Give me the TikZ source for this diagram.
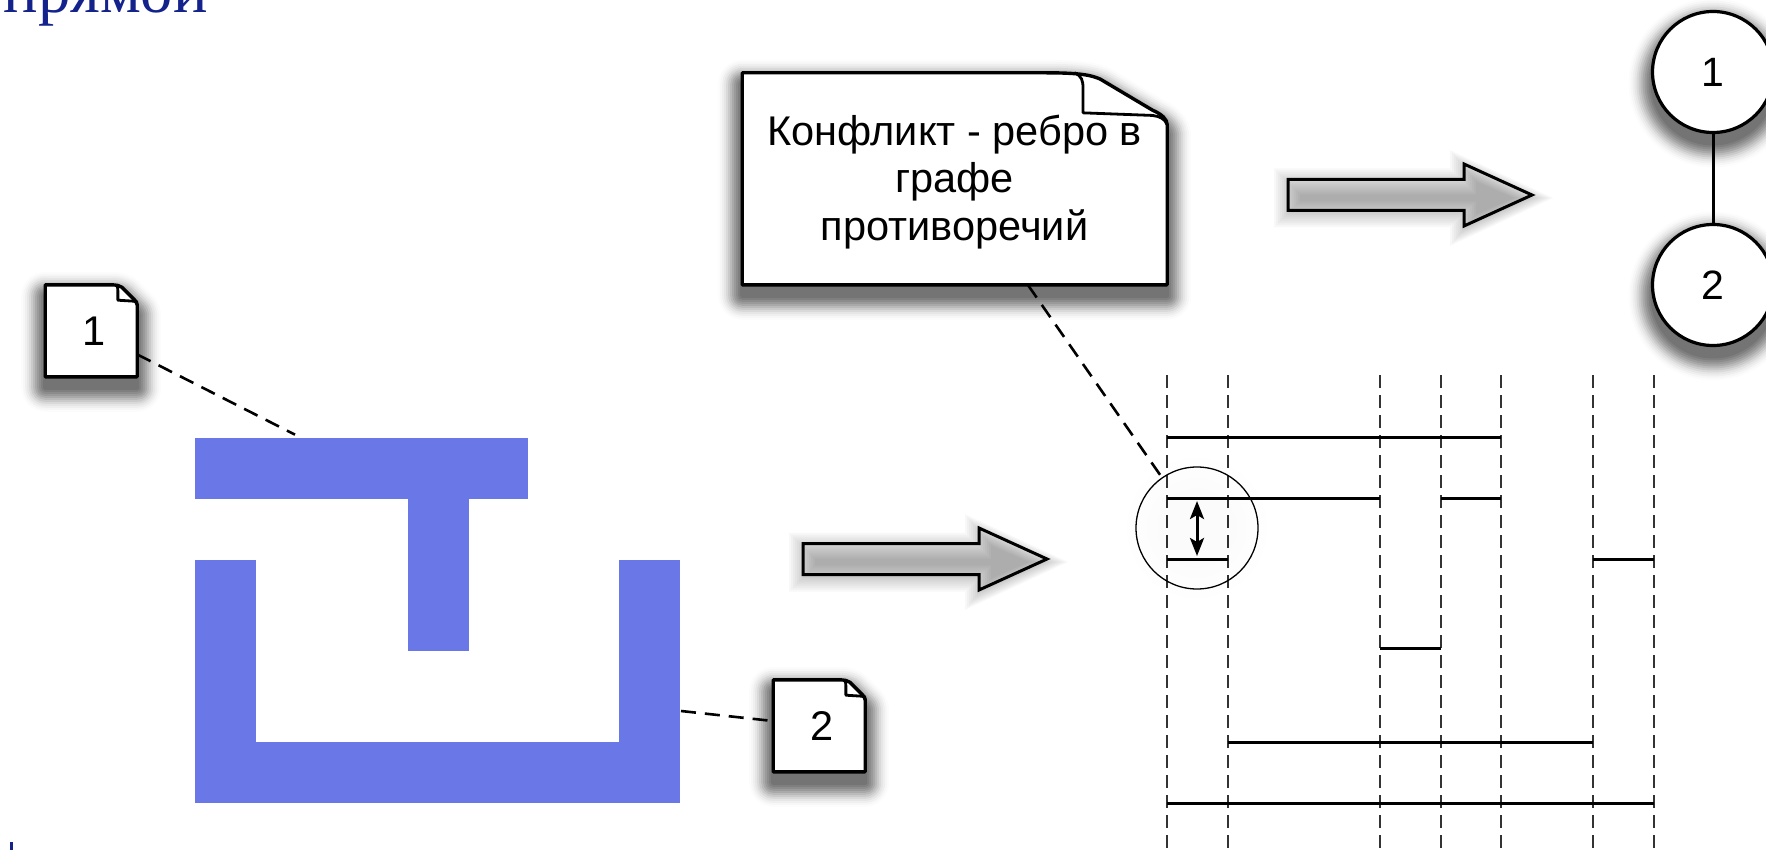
\documentclass[tikz,border=0pt]{standalone}
\usepackage{fontspec}
\setmainfont{Liberation Sans}
\newfontfamily\titlefont{Liberation Serif}
\usetikzlibrary{arrows.meta, backgrounds}
\definecolor{wireBlue}{RGB}{106,119,230}
\definecolor{titleBlue}{RGB}{20,35,140}
\tikzstyle{note} = [inner sep=0, align=center, font=\fontsize{41.5}{47.5}\selectfont]
\tikzstyle{vertex} = [draw, circle, fill=white, line width=3.2pt, minimum size=121pt, inner sep=0, font=\fontsize{41}{46}\selectfont]
\tikzstyle{wire} = [fill=wireBlue, inner sep=0]
\tikzstyle{leader} = [line width=2.6pt, dash pattern=on 15pt off 9pt]
\tikzstyle{column} = [line width=1.3pt, black!80, dash pattern=on 13pt off 7pt]
\tikzstyle{segment} = [line width=3pt]
\tikzstyle{shade step} = [black, line join=round]
\newcommand{\softshade}[1]{\foreach \w/\a in {48/.01,44/.02,40/.03,36/.04,32/.055,28/.07,24/.08,20/.09,16/.09,12/.09,8/.09,4/.09} {
    \begin{scope}[transparency group, opacity=\a]
      \draw[shade step, fill, line width=\w pt] #1;
    \end{scope}}}
% name, width, height, fold width, fold height
\newcommand{\noteback}[5]{
  \begin{scope}[shift={(#1.north east)}]
    \def\outline{(-#2,0) -- (-#4,0) .. controls (-.7*#4,0) and (-.62*#4,.05*#5) .. (-.55*#4,.12*#5) -- (-.12*#4,.72*#5) .. controls (-.04*#4,.8*#5) and (0,.9*#5) .. (0,#5) -- (0,#3) -- (-#2,#3) -- cycle}
    \begin{scope}[yshift=-11pt]
      \softshade{\outline}
    \end{scope}
    \draw[line width=3.4pt, fill=white, line join=round] \outline;
    \draw[line width=2.8pt, line join=round] (-.76*#4,0) .. controls (-.7*#4,.06*#5) and (-.69*#4,.15*#5) .. (-.69*#4,.3*#5) -- (-.69*#4,.77*#5) -- (-.12*#4,.82*#5) .. controls (-.06*#4,.84*#5) and (-.02*#4,.88*#5) .. (0,#5);
  \end{scope}
}
% tail x, tail y
\newcommand{\blockarrow}[2]{
  \begin{scope}[shift={(#1,#2)}]
    \foreach \off in {-12,-10,...,14} {
      \fill[black, opacity=0.028, yshift=-3pt] (-\off,-15.5-\off) -- (176-\off,-15.5-\off) -- (176-\off,-31-1.2*\off) -- (244+1.5*\off,0) -- (176-\off,31+1.2*\off) -- (176-\off,15.5+\off) -- (-\off,15.5+\off) -- cycle;
    }
    \draw[line width=3pt, line join=miter] (0,-15.5) -- (176,-15.5) -- (176,-31) -- (244,0) -- (176,31) -- (176,15.5) -- (0,15.5) -- cycle;
  \end{scope}
}

\begin{document}
\begin{tikzpicture}[x=1pt, y=-1pt]
    \useasboundingbox (0,0) rectangle (1766,850);
    \node [anchor=base west, inner sep=0, text=titleBlue, font=\titlefont\fontsize{64.5}{65}\selectfont] (title) at (3.5,13) {прямой};
    \fill [titleBlue] (10,842) rectangle (13,850);

    % layout
    \node [wire, minimum width=333pt, minimum height=61pt] (wireTop) at (361.5,468.5) {};
    \node [wire, minimum width=60.5pt, minimum height=152pt] (wireStem) at (438.5,575) {};
    \node [wire, minimum width=61pt, minimum height=182pt] (wireLeft) at (225.5,651) {};
    \node [wire, minimum width=61pt, minimum height=182pt] (wireRight) at (649.5,651) {};
    \node [wire, minimum width=485pt, minimum height=61pt] (wireBottom) at (437.5,772.5) {};

    % notes
    \node [note, minimum width=92pt, minimum height=92pt] (noteOne) at (91,331) {\hspace*{7pt}1};
    \node [note, minimum width=92pt, minimum height=92pt, right of=noteOne, node distance=728pt, yshift=-395pt] (noteTwo) {\hspace*{7pt}2};
    \node [note, minimum width=425pt, minimum height=212pt] (noteConflict) at (954.5,179) {\rule{0pt}{36pt}Конфликт - ребро в\\графе\\противоречий};
    \coordinate (leaderTwoEnd) at (681,711);
    \begin{pgfonlayer}{background}
        \noteback{noteOne}{92}{92}{28}{20}
        \noteback{noteTwo}{92}{92}{28}{20}
        \noteback{noteConflict}{425}{212}{122}{52}
    \end{pgfonlayer}

    % arrows
    \blockarrow{1288}{195}
    \blockarrow{803}{559}

    % conflict graph
    \node [vertex] (vertexOne) at (1713,72) {1};
    \node [vertex, below of=vertexOne, node distance=213pt] (vertexTwo) {2};
    \begin{pgfonlayer}{background}
        \softshade{([yshift=-11pt]vertexOne.center) circle (60.5pt)}
        \softshade{([yshift=-11pt]vertexTwo.center) circle (60.5pt)}
    \end{pgfonlayer}
    \draw [line width=3pt] (vertexOne) -- (vertexTwo);

    % intervals
    \foreach \x [count=\i] in {1167,1228,1380,1441,1501,1593,1654} {
        \coordinate (colTop\i) at (\x,375);
        \coordinate (colBottom\i) at (\x,850);
        \draw [column] (colTop\i) -- (colBottom\i);
    }
    \foreach \a/\b/\y in {1/5/437, 1/3/498, 4/5/498, 1/2/559, 6/7/559, 3/4/648, 2/6/742, 1/7/803} {
        \draw [segment] (colTop\a |- 0,\y) -- (colTop\b |- 0,\y);
    }

    % conflict mark
    \node [draw, circle, line width=1.3pt, minimum size=122pt, inner sep=0] (conflictMark) at (1197,528) {};
    \foreach \r in {40,50,60,70} {
        \fill [black, opacity=0.005] (conflictMark.center) circle (\r pt);
    }
    \coordinate (gapTop) at (1197,501);
    \coordinate (gapBottom) at (1197,556);
    \draw [line width=3pt, {Stealth[length=18pt,width=14pt,inset=4pt]}-{Stealth[length=18pt,width=14pt,inset=4pt]}] (gapTop) -- (gapBottom);

    % leaders
    \draw [leader, shorten >=7pt] (noteOne) -- (wireTop);
    \draw [leader] (leaderTwoEnd) -- (noteTwo);
    \draw [leader] (noteConflict) -- (conflictMark);
\end{tikzpicture}
\end{document}
